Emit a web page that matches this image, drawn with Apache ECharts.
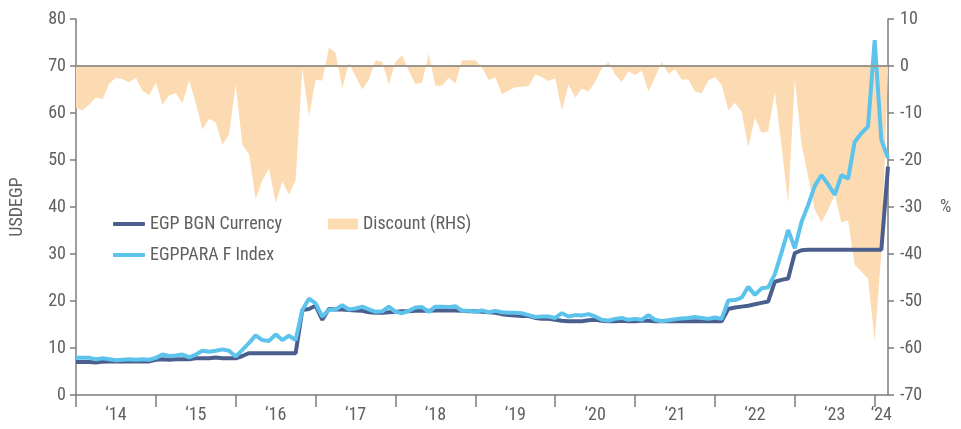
<!DOCTYPE html>
<html>
<head>
<meta charset="utf-8">
<script src="https://cdn.jsdelivr.net/npm/echarts@6/dist/echarts.min.js"></script>
<style>
html,body{margin:0;padding:0;background:#fff;}
#main{width:961px;height:429px;}
</style>
</head>
<body>
<div id="main"></div>
<script>
// monthly points, Jan 2014 -> Mar 2024
var months = [];
for (var y = 2014; y <= 2024; y++) {
    for (var m = 1; m <= 12; m++) {
        if (y === 2024 && m > 3) break;
        months.push(y + '-' + (m < 10 ? '0' + m : m));
    }
}
var yearTicks = ['‘14','‘15','‘16','‘17','‘18','‘19','‘20','‘21','‘22','‘23','‘24'];

// EGP BGN Currency (USDEGP, LHS)
var egpBgn = [
    7.0, 7.0, 7.0, 6.9, 7.1, 7.15, 7.15, 7.15, 7.15, 7.15, 7.15, 7.15,
    7.5, 7.6, 7.5, 7.6, 7.6, 7.6, 7.8, 7.8, 7.8, 8.0, 7.8, 7.8,
    7.8, 8.3, 8.9, 8.9, 8.9, 8.9, 8.9, 8.9, 8.9, 8.9, 18.1, 18.3,
    19.0, 16.0, 18.3, 18.2, 18.2, 18.1, 18.0, 17.9, 17.6, 17.5, 17.5, 17.6,
    17.7, 17.8, 17.8, 17.9, 17.9, 17.9, 18.0, 18.0, 18.0, 18.0, 17.9, 17.8,
    17.8, 17.7, 17.6, 17.5, 17.2, 17.0, 16.9, 16.8, 16.8, 16.4, 16.2, 16.2,
    16.0, 15.8, 15.7, 15.7, 15.7, 15.9, 16.0, 15.8, 15.7, 15.7, 15.8, 15.7,
    15.7, 15.8, 15.8, 15.7, 15.7, 15.7, 15.7, 15.7, 15.7, 15.7, 15.7, 15.7,
    15.7, 15.7, 18.3, 18.6, 18.8, 19.0, 19.3, 19.6, 19.9, 24.1, 24.5, 24.8,
    30.2, 30.8, 30.9, 30.9, 30.9, 30.9, 30.9, 30.9, 30.9, 30.9, 30.9, 30.9,
    30.9, 30.9, 48.6
];
// EGPPARA F Index (parallel rate, LHS)
var egpPara = [
    7.9, 7.9, 7.9, 7.6, 7.8, 7.6, 7.4, 7.5, 7.6, 7.5, 7.6, 7.5,
    7.9, 8.6, 8.3, 8.4, 8.6, 8.0, 8.6, 9.4, 9.2, 9.4, 9.7, 9.4,
    8.2, 9.6, 11.1, 12.7, 11.7, 11.5, 12.9, 11.7, 12.6, 11.7, 18.1, 20.5,
    19.5, 16.7, 18.1, 18.2, 19.1, 18.2, 18.4, 18.8, 18.2, 17.7, 17.8, 18.8,
    17.7, 17.4, 17.9, 18.6, 18.7, 17.7, 18.8, 18.8, 18.7, 18.9, 17.9, 17.9,
    17.7, 18.0, 17.6, 17.9, 17.6, 17.5, 17.5, 17.4, 17.0, 16.6, 16.7, 16.7,
    16.4, 17.4, 16.7, 17.0, 16.9, 17.2, 16.7, 16.0, 15.8, 16.2, 16.4, 16.0,
    16.2, 16.0, 17.0, 16.0, 15.7, 15.9, 16.1, 16.3, 16.4, 16.6, 16.4, 16.2,
    16.5, 16.2, 20.1, 20.2, 20.7, 23.0, 21.3, 22.7, 22.9, 25.7, 30.3, 35.1,
    31.2, 36.8, 40.4, 44.5, 46.8, 44.8, 42.6, 46.8, 46.0, 53.9, 55.7, 57.1,
    75.5, 54.3, 50.4
];
// Discount (%, RHS)
var discount = [
    -9.0, -9.4, -8.2, -6.7, -7.1, -3.7, -2.5, -2.8, -3.5, -2.5, -5.3, -6.2,
    -3.5, -8.3, -6.2, -5.8, -7.9, -3.1, -7.9, -13.5, -11.2, -12.1, -16.8, -14.5,
    -4.0, -16.8, -18.8, -28.4, -24.3, -21.8, -29.2, -24.5, -27.4, -24.3, -0.5, -10.8,
    -3.0, -3.1, 3.9, 2.8, -4.8, 0.7, -2.2, -5.0, -2.9, 1.2, 0.9, -4.0,
    0.9, 2.3, -1.0, -3.9, -3.5, 2.6, -4.2, -4.2, -2.5, -3.7, 1.2, 1.2,
    1.2, -0.3, -3.0, -2.4, -6.0, -5.2, -4.5, -4.4, -4.3, -1.8, -2.4, -3.2,
    -2.6, -9.5, -4.0, -6.7, -4.8, -5.4, -3.4, -0.5, 0.8, -1.8, -3.4, -1.1,
    -1.9, -1.0, -5.4, -2.4, 0.9, -1.7, -0.7, -2.9, -2.8, -5.4, -5.8, -3.1,
    -2.4, -4.0, -9.4, -7.8, -9.7, -17.3, -11.0, -14.2, -13.9, -5.6, -17.0, -29.2,
    -2.8, -16.6, -23.5, -30.6, -33.3, -30.6, -27.4, -33.3, -32.8, -42.3, -43.8, -45.2,
    -58.5, -40.0, -1.0
];

var FONT = "'Roboto Condensed','Liberation Sans Narrow','DejaVu Sans Condensed',Roboto,sans-serif";
var axisGray = '#7d7d7d';
var textGray = '#606060';

var dom = document.getElementById('main');
var myChart = echarts.init(dom);
var option = {
    animation: false,
    textStyle: {fontFamily: FONT},
    grid: {left: 76, right: 73, top: 19, bottom: 34, containLabel: false},
    legend: [{
        orient: 'vertical',
        left: 108, top: 210,
        itemWidth: 32, itemHeight: 4, itemGap: 13,
        icon: 'roundRect',
        textStyle: {fontFamily: FONT, fontSize: 18, color: textGray},
        data: ['EGP BGN Currency', 'EGPPARA F Index']
    }, {
        left: 323, top: 210,
        itemWidth: 30, itemHeight: 11,
        icon: 'rect',
        textStyle: {fontFamily: FONT, fontSize: 18, color: textGray},
        data: ['Discount (RHS)']
    }],
    xAxis: {
        type: 'category',
        boundaryGap: false,
        data: months,
        axisLine: {lineStyle: {color: axisGray, width: 1.5}},
        axisTick: {
            length: 12,
            lineStyle: {color: axisGray, width: 1.5},
            interval: function (idx) { return idx % 12 === 0; }
        },
        axisLabel: {
            margin: 11,
            fontFamily: FONT, fontSize: 18, color: textGray,
            showMinLabel: true, showMaxLabel: true,
            interval: function (idx) { return idx % 12 === 6 || idx === 121; },
            formatter: function (val) {
                return yearTicks[parseInt(val.slice(0, 4), 10) - 2014];
            }
        },
        splitLine: {show: false}
    },
    yAxis: [{
        type: 'value',
        min: 0, max: 80, interval: 10,
        name: 'USDEGP',
        nameLocation: 'middle',
        nameGap: 50,
        nameTextStyle: {fontFamily: FONT, fontSize: 18, color: textGray},
        axisLine: {show: true, lineStyle: {color: axisGray, width: 1.5}},
        axisTick: {show: true, length: 6, lineStyle: {color: axisGray, width: 1.5}},
        axisLabel: {margin: 10, fontFamily: FONT, fontSize: 18, color: textGray},
        splitLine: {show: false}
    }, {
        type: 'value',
        position: 'right',
        min: -70, max: 10, interval: 10,
        name: '%',
        nameLocation: 'middle',
        nameRotate: 0,
        nameGap: 52,
        nameTextStyle: {fontFamily: FONT, fontSize: 18, color: textGray, align: 'left'},
        axisLine: {show: true, lineStyle: {color: axisGray, width: 1.5}},
        axisTick: {show: true, length: 6, lineStyle: {color: axisGray, width: 1.5}},
        axisLabel: {margin: 12, fontFamily: FONT, fontSize: 18, color: textGray},
        splitLine: {show: false}
    }],
    series: [{
        name: 'Discount (RHS)',
        type: 'line',
        yAxisIndex: 1,
        data: discount,
        showSymbol: false,
        itemStyle: {color: '#fddbb2'},
        lineStyle: {width: 0},
        areaStyle: {color: '#fddbb2', opacity: 1, origin: 'auto'},
        markLine: {
            silent: true,
            symbol: 'none',
            label: {show: false},
            lineStyle: {color: '#9d968d', width: 2, type: 'solid'},
            data: [{yAxis: 0}]
        },
        z: 1
    }, {
        name: 'EGP BGN Currency',
        type: 'line',
        data: egpBgn,
        showSymbol: false,
        itemStyle: {color: '#4b5f8f'},
        lineStyle: {color: '#4b5f8f', width: 4},
        z: 3
    }, {
        name: 'EGPPARA F Index',
        type: 'line',
        data: egpPara,
        showSymbol: false,
        itemStyle: {color: '#5cc4ec'},
        lineStyle: {color: '#5cc4ec', width: 4},
        z: 4
    }]
};
if (option && typeof option === "object") {
    myChart.setOption(option, true);
}
</script>
</body>
</html>
